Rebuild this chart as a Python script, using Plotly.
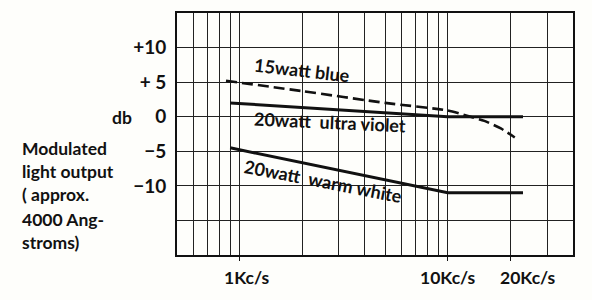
import math
import plotly.graph_objects as go

# ---- data ----
blue_freq = [860, 2000, 5000, 10000, 12500, 15000, 18000, 21000]
blue_db = [5.2, 3.7, 2.0, 0.9, 0.1, -0.6, -1.7, -3.0]

uv_freq = [900, 10000, 23000]
uv_db = [2.0, 0.0, 0.0]

ww_freq = [900, 10000, 23000]
ww_db = [-4.5, -11.0, -11.0]

x_grid = [600, 700, 800, 900, 1000, 2000, 3000, 4000, 5000, 6000, 7000,
          8000, 9000, 10000, 20000, 30000]
x_label_vals = [1000, 10000, 20000]
x_label_text = ["1Kc/s", "10Kc/s", "20Kc/s"]
x_label_shift = [7, 0, 18]

y_grid = [-15, -10, -5, 0, 5, 10]
y_grid_text = ["", "\u221210", "\u22125", "0", "+ 5", "+10"]

curve_labels = ["15watt blue", "20watt  ultra violet", "20watt  warm white"]
side_lines = ["Modulated", "light output", "( approx.", "4000 Ang-", "stroms)"]

FONT = "Lato"
INK = "#111111"

# plot-area geometry in pixels (for placing the free text)
W, H = 592, 300
L, R, T, B = 177, 19, 13, 45
PW, PH = W - L - R, H - T - B


def px_x(px):
    return (px - L) / PW


def px_y(py):
    return (H - B - py) / PH


def f(size):
    return dict(family=FONT, size=size, weight=700, color=INK)


fig = go.Figure()
fig.add_trace(go.Scatter(x=blue_freq, y=blue_db, mode="lines",
                         line=dict(color=INK, width=2.6, dash="11px,5px", shape="spline", smoothing=0.6),
                         hoverinfo="skip", showlegend=False))
fig.add_trace(go.Scatter(x=uv_freq, y=uv_db, mode="lines",
                         line=dict(color=INK, width=3), hoverinfo="skip", showlegend=False))
fig.add_trace(go.Scatter(x=ww_freq, y=ww_db, mode="lines",
                         line=dict(color=INK, width=3), hoverinfo="skip", showlegend=False))
# invisible trace for the tick-mark overlay axis
fig.add_trace(go.Scatter(x=[1000], y=[0], xaxis="x2", mode="markers",
                         marker=dict(opacity=0), hoverinfo="skip", showlegend=False))

xr = [math.log10(500), math.log10(40000)]
fig.update_layout(
    width=W, height=H,
    margin=dict(l=L, r=R, t=T, b=B),
    paper_bgcolor="#fefefb", plot_bgcolor="#fefefb",
    font=dict(family=FONT, color=INK, size=16),
    xaxis=dict(type="log", range=xr, tickvals=x_grid, showticklabels=False,
               showgrid=True, gridcolor="#222222", gridwidth=1,
               showline=True, linecolor=INK, linewidth=1.6, mirror=True,
               zeroline=False, ticks=""),
    xaxis2=dict(type="log", range=xr, overlaying="x", anchor="y", side="bottom",
                tickvals=x_label_vals, showticklabels=False, ticks="outside",
                ticklen=5, tickwidth=1.2, tickcolor=INK, showgrid=False,
                showline=False, zeroline=False),
    yaxis=dict(range=[-20, 15], tickvals=y_grid, ticktext=y_grid_text,
               showgrid=True, gridcolor="#222222", gridwidth=1,
               showline=True, linecolor=INK, linewidth=1.6, mirror=True,
               zeroline=False, ticks="", ticklabelstandoff=5,
               tickfont=f(19)),
)

ann = []
for v, t, s in zip(x_label_vals, x_label_text, x_label_shift):
    ann.append(dict(x=math.log10(v), y=px_y(277), xref="x", yref="paper",
                    xshift=s, text=t, showarrow=False, xanchor="center", yanchor="middle",
                    font=f(17.5)))

# curve labels
ann.append(dict(x=math.log10(1990), y=6.7, xref="x", yref="y", text=curve_labels[0],
                showarrow=False, textangle=6.5, font=f(18)))
ann.append(dict(x=math.log10(2710), y=-0.7, xref="x", yref="y", text=curve_labels[1],
                showarrow=False, textangle=2.6, font=f(18)))
ann.append(dict(x=math.log10(2510), y=-9.3, xref="x", yref="y", text=curve_labels[2],
                showarrow=False, textangle=11, font=f(18)))

# "db" label
ann.append(dict(x=px_x(122), y=px_y(117), xref="paper", yref="paper", text="db",
                showarrow=False, xanchor="center", yanchor="middle", font=f(17.5)))

# side text block
ys = [148, 171, 195, 219, 242]
for t, yy in zip(side_lines, ys):
    ann.append(dict(x=px_x(20), y=px_y(yy), xref="paper", yref="paper", text=t,
                    showarrow=False, xanchor="left", yanchor="middle", font=f(17.5)))

fig.update_layout(annotations=ann)
fig.write_html("out.html")
